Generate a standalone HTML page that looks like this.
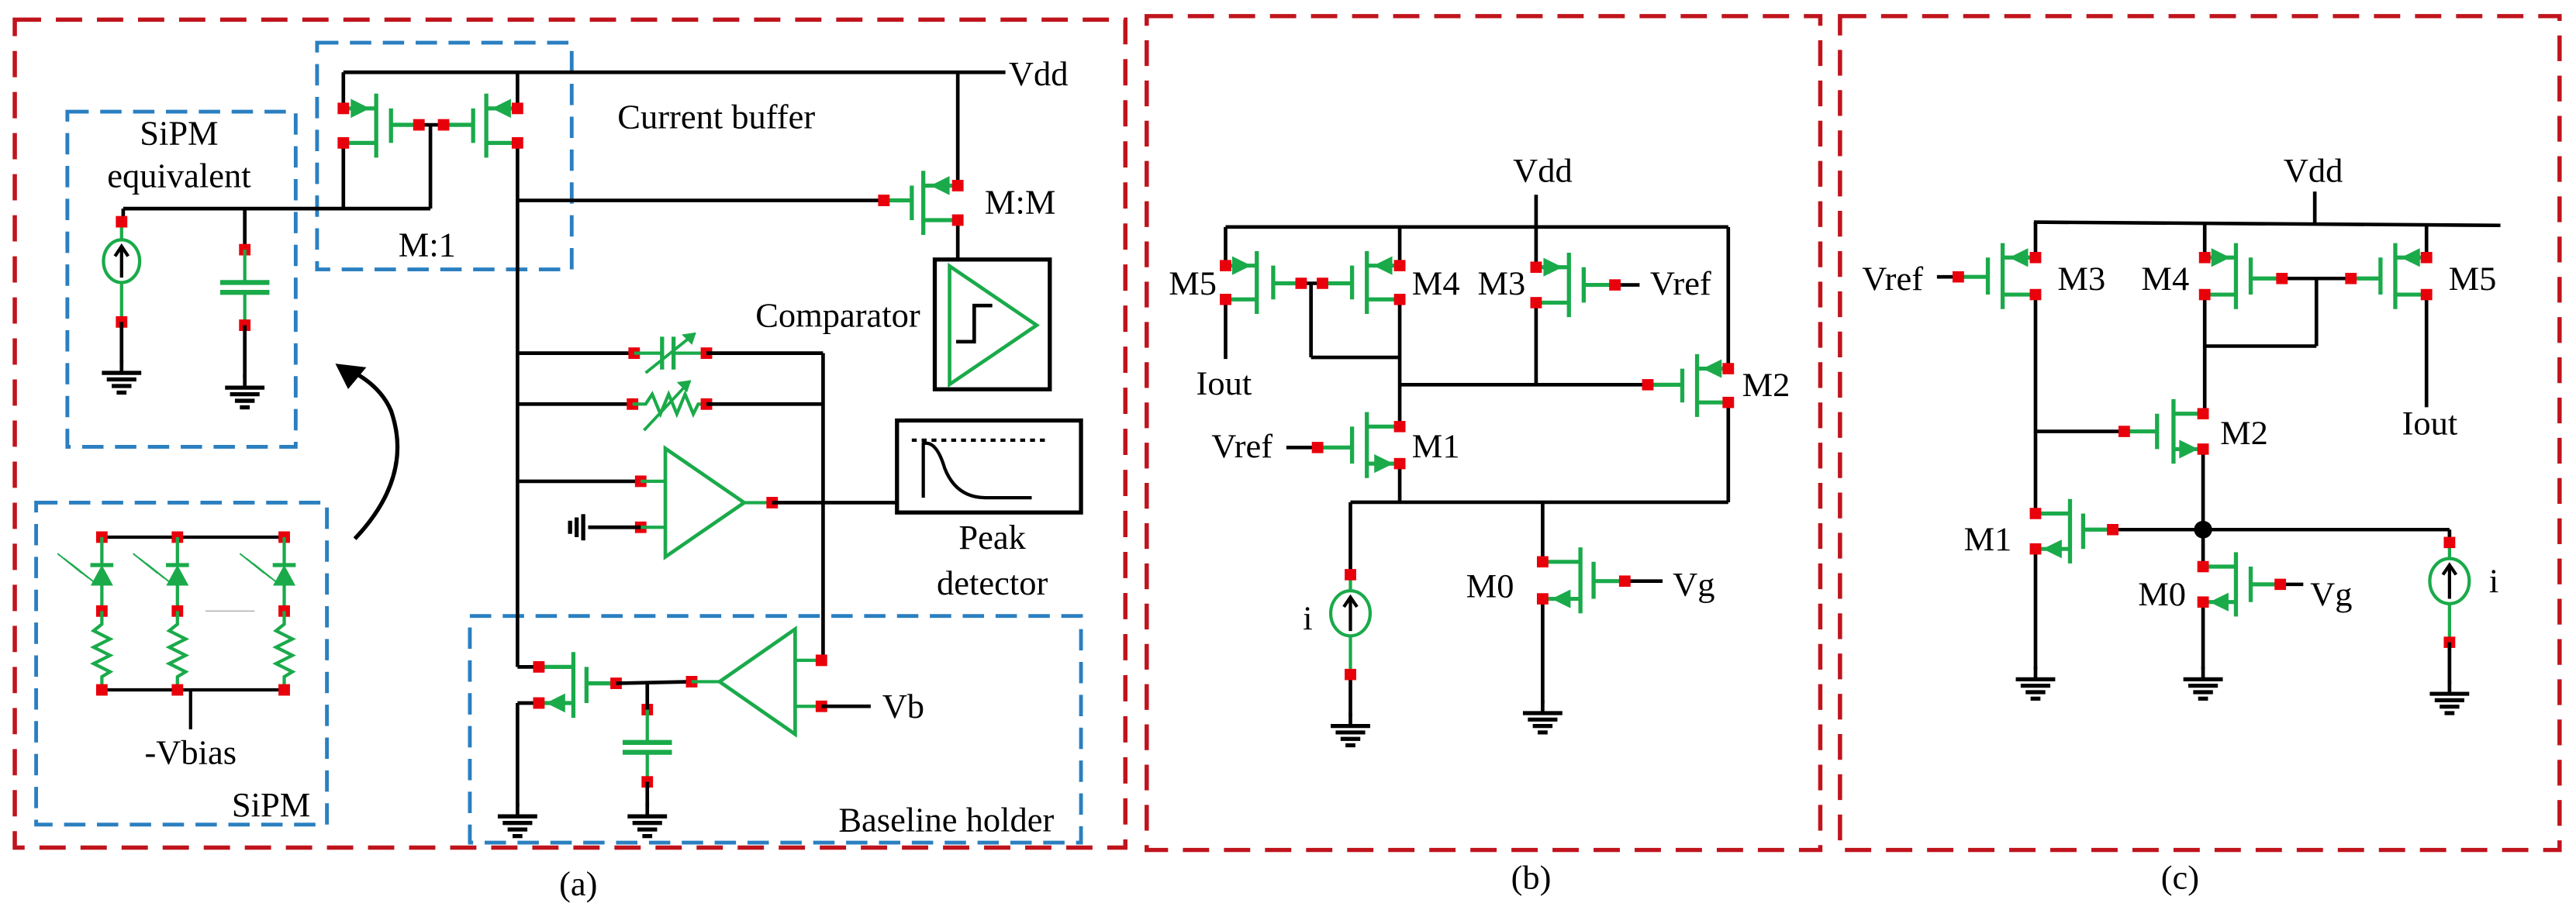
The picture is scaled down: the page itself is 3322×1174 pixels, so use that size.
<!DOCTYPE html>
<html><head><meta charset="utf-8"><style>
html,body{margin:0;padding:0;background:#fff}
svg{display:block}
svg text{font-family:"Liberation Serif","DejaVu Serif",serif;font-size:21px;fill:#000}
</style></head><body>
<svg id="s" width="3322" height="1174" viewBox="0 0 1568 554" preserveAspectRatio="none" xmlns="http://www.w3.org/2000/svg" font-family="Liberation Serif, serif">
<rect width="1568" height="554" fill="#fff"/>
<g id="ga"></g>
<g id="gb" transform="scale(1,0.98)"></g>
<g font-family="Liberation Serif, serif">
<text x="614" y="52">Vdd</text>
<text x="436" y="78" text-anchor="middle">Current  buffer</text>
<text x="109" y="88" text-anchor="middle">SiPM</text>
<text x="109" y="114" text-anchor="middle">equivalent</text>
<text x="260" y="156" text-anchor="middle">M:1</text>
<text x="621" y="130" text-anchor="middle">M:M</text>
<text x="510" y="199" text-anchor="middle">Comparator</text>
<text x="604" y="334" text-anchor="middle">Peak</text>
<text x="604" y="362" text-anchor="middle">detector</text>
<text x="116" y="465" text-anchor="middle">-Vbias</text>
<text x="165" y="497" text-anchor="middle">SiPM</text>
<text x="576" y="506" text-anchor="middle">Baseline holder</text>
<text x="537" y="437">Vb</text>
<text x="352" y="545" text-anchor="middle">(a)</text>
</g>
<g transform="scale(1,0.98)" font-family="Liberation Serif, serif">
<text x="939" y="113" text-anchor="middle">Vdd</text>
<text x="726" y="183" text-anchor="middle">M5</text>
<text x="874" y="183" text-anchor="middle">M4</text>
<text x="914" y="183" text-anchor="middle">M3</text>
<text x="1023" y="183" text-anchor="middle">Vref</text>
<text x="745" y="245" text-anchor="middle">Iout</text>
<text x="1075" y="246" text-anchor="middle">M2</text>
<text x="756" y="284" text-anchor="middle">Vref</text>
<text x="874" y="284" text-anchor="middle">M1</text>
<text x="796" y="391" text-anchor="middle">i</text>
<text x="907" y="371" text-anchor="middle">M0</text>
<text x="1031" y="370" text-anchor="middle">Vg</text>
<text x="932" y="552" text-anchor="middle">(b)</text>
<text x="1408" y="113" text-anchor="middle">Vdd</text>
<text x="1152" y="180" text-anchor="middle">Vref</text>
<text x="1267" y="180" text-anchor="middle">M3</text>
<text x="1318" y="180" text-anchor="middle">M4</text>
<text x="1505" y="180" text-anchor="middle">M5</text>
<text x="1479" y="270" text-anchor="middle">Iout</text>
<text x="1366" y="276" text-anchor="middle">M2</text>
<text x="1210" y="342" text-anchor="middle">M1</text>
<text x="1316" y="376" text-anchor="middle">M0</text>
<text x="1419" y="376" text-anchor="middle">Vg</text>
<text x="1518" y="368" text-anchor="middle">i</text>
<text x="1327" y="552" text-anchor="middle">(c)</text>
</g>
</svg>
<script>
const NS="http://www.w3.org/2000/svg";
const G="#1aaa4a",K="#000",RD="#e8000b";
let cur=document.getElementById('ga');
function el(t,a){const e=document.createElementNS(NS,t);for(const k in a)e.setAttribute(k,a[k]);cur.appendChild(e);return e;}
function L(x1,y1,x2,y2,c,w){el('line',{x1,y1,x2,y2,stroke:c||K,'stroke-width':w||2.2});}
function P(d,c,w,f){el('path',{d,stroke:c||K,'stroke-width':w||2.2,fill:f||'none'});}
function R(x,y){el('rect',{x:x-3.5,y:y-3.5,width:7,height:7,fill:RD});}
function tri(cx,y,dir){P(`M${cx+5*dir},${y} L${cx-5*dir},${y-5} L${cx-5*dir},${y+5}Z`,G,1,G);}
function fet(xd,y1,y2,xb,xp,xg,yg,ay,ad){
 L(xd,y1,xb,y1,G,2.5);L(xd,y2,xb,y2,G,2.5);
 L(xb,y1-9,xb,y2+9,G,2.5);L(xp,y1,xp,y2,G,2.5);L(xp,yg,xg,yg,G,2.5);
 tri((xd+xb)/2,ay,ad);R(xd,y1);R(xd,y2);R(xg,yg);}
function gnd(x,y){L(x,y-8,x,y);L(x-12,y,x+12,y,K,2.5);L(x-9,y+4,x+9,y+4,K,2.5);L(x-6,y+8,x+6,y+8,K,2.5);L(x-3,y+12,x+3,y+12,K,2.5);}
function frame(x1,y1,x2,y2,c,da,w){el('rect',{x:x1,y:y1,width:x2-x1,height:y2-y1,fill:'none',stroke:c,'stroke-width':w,'stroke-dasharray':da});}
function isrc(x,yc,rx,ry){el('ellipse',{cx:x,cy:yc,rx,ry,fill:'none',stroke:G,'stroke-width':2});L(x,yc+ry-3,x,yc-ry+4,K,2);P(`M${x-4},${yc-ry+10} L${x},${yc-ry+4} L${x+4},${yc-ry+10}`,K,2);}
function cap(x,y1,y2,w){L(x-w,y1,x+w,y1,G,3);L(x-w,y2,x+w,y2,G,3);}

/* ---- Panel a ---- */
frame(9,12,685,516,'#c0141c','16 9',2.6);
frame(41,68,180,272,'#2a7fc0','13 7',2.3);
frame(193,26,348,164,'#2a7fc0','13 7',2.3);
frame(22,306,199,502,'#2a7fc0','13 7',2.3);
frame(286,375,658,513,'#2a7fc0','13 7',2.3);
L(209,44,612,44);L(209,44,209,66);L(209,87,209,127);L(315,44,315,66);L(315,87,315,406);
L(255,76,270,76);L(262,76,262,127);L(75,127,262,127);L(75,127,75,135);L(149,127,149,152);
fet(209,66,87,229,238,255,76,66,1);
fet(315,66,87,296,288,270,76,66,-1);
L(74,135,74,146,G,2);isrc(74,159,11,13);L(74,172,74,196,G,2);R(74,135);R(74,196);L(74,196,74,221);gnd(74,227);
R(149,152);L(149,152,149,172,G,2);cap(149,172,178,15);L(149,178,149,198,G,2);R(149,198);L(149,198,149,230);gnd(149,236);
L(583,44,583,113);L(583,134,583,158);L(315,122,538,122);
fet(583,113,134,562,555,538,122,113,-1);
el('rect',{x:569,y:158,width:70,height:79,fill:'none',stroke:K,'stroke-width':2.5});
P('M578,162 L578,234 L631,198Z',G,2.2);P('M582,208 L593,208 L593,186 L604,186',K,2.2);
L(315,215,386,215);R(386,215);L(386,215,403,215,G,2);L(403,205,403,225,G,2.5);L(410,205,410,225,G,2.5);L(410,215,430,215,G,2);R(430,215);L(430,215,501,215);
L(393,227,423,203,G,1.8);P('M423,203 l-7,1 l5,5Z',G,1,G);
L(315,246,385,246);R(385,246);P('M385,246 L393,246 L397,240 L402,252 L407,240 L412,252 L417,240 L422,252 L425,246 L430,246',G,2);R(430,246);L(430,246,501,246);
L(392,262,420,232,G,1.8);P('M420,232 l-7,1 l5,5Z',G,1,G);
L(501,215,501,402);
L(315,293,390,293);R(390,293);L(390,293,405,293,G,2);R(390,321);L(390,321,405,321,G,2);L(358,321,390,321);
L(355,313,355,329,K,2.5);L(351,315,351,327,K,2.5);L(347,317,347,325,K,2.5);
P('M405,273 L405,339 L453,306Z',G,2.2);L(453,306,470,306,G,2);R(470,306);L(470,306,546,306);
el('rect',{x:546,y:256,width:112,height:56,fill:'none',stroke:K,'stroke-width':2.5});
L(552,268,637,268,K,2);el('line',{x1:552,y1:268,x2:637,y2:268,stroke:'#fff','stroke-width':2.5,'stroke-dasharray':'3 3'});
P('M562,303 L562,270 Q570,268 575,285 Q582,303 600,303 L628,303',K,2);
L(315,406,328,406);L(328,428,315,428);L(315,428,315,491);gnd(315,497);
fet(328,406,428,349,357,375,416,428,-1);
L(375,416,421,415);R(421,415);L(421,415,438,415,G,2);
P('M438,415 L484,383 L484,447Z',G,2.2);
L(484,402,500,402,G,2);R(500,402);L(484,430,500,430,G,2);R(500,430);L(500,430,530,430);
R(394,432);L(394,416,394,432);L(394,432,394,452,G,2);cap(394,452,458,15);L(394,458,394,476,G,2);R(394,476);L(394,476,394,491);gnd(394,497);
P('M216,328 Q252,290 238,250 Q232,236 216,227',K,2.5);P('M205,222 L222,224 L212,236Z',K,1,K);
L(62,327,173,327,K,2);L(62,420,173,420,K,2);L(116,420,116,444,K,2);
[62,108,173].forEach(x=>{R(x,327);L(x,327,x,344,G,2);L(x-7,344,x+7,344,G,2.5);P(`M${x-6},${356} L${x+6},356 L${x},345Z`,G,1,G);L(x,356,x,372,G,2);R(x,372);
 P(`M${x},372 L${x},380 L${x-5},384 L${x+5},389 L${x-5},394 L${x+5},399 L${x-5},404 L${x+5},409 L${x},412 L${x},420`,G,2);R(x,420);
 for(let i=0;i<3;i++)L(x-27+i*4,337+i*3,x-12+i*4,349+i*3,G,0.9);});
L(125,372,155,372,'#aaa',0.6);

/* ---- Panels b,c ---- */
cur=document.getElementById('gb');
frame(698,10,1108,528,'#c0141c','16 9',2.6);
frame(1120,10,1558,528,'#c0141c','16 9',2.6);
L(746,141,1052,141);L(935,121,935,166);L(746,141,746,165);L(852,141,852,165);L(1052,141,1052,229);L(1052,250,1052,312);
L(746,186,746,223);L(792,176,805,176);L(798,176,798,222);L(798,222,852,222);L(852,186,852,265);L(852,239,1003,239);L(935,188,935,239);
L(983,177,998,177);L(783,278,802,278);L(852,288,852,312);L(822,312,1052,312);L(822,312,822,357);
L(822,419,822,445);gnd(822,451);L(939,312,939,349);L(939,372,939,437);gnd(939,443);L(989,361,1012,361);
fet(746,165,186,765,775,792,176,165,1);
fet(852,165,186,832,823,805,176,165,-1);
fet(935,166,188,955,964,983,177,166,1);
fet(1052,229,250,1033,1024,1003,239,229,-1);
fet(852,265,288,832,823,802,278,288,1);
fet(939,349,372,962,970,989,361,372,-1);
L(822,357,822,367,G,2);isrc(822,381,12,14);L(822,395,822,419,G,2);R(822,357);R(822,419);
L(1238,138,1522,140);L(1409,119,1409,139);L(1239,138,1239,160);L(1239,183,1239,319);L(1239,341,1239,416);gnd(1239,422);
L(1342,139,1342,160);L(1477,139,1477,160);L(1477,183,1477,253);L(1389,173,1431,173);L(1410,173,1410,215);L(1410,215,1342,215);
L(1342,183,1342,257);L(1239,268,1293,268);L(1341,279,1341,352);L(1286,329,1491,329);el('circle',{cx:1341,cy:329,r:5.5,fill:K});
L(1341,374,1341,416);gnd(1341,422);L(1388,363,1402,363);L(1179,172,1192,172);
fet(1239,160,183,1219,1210,1192,172,160,-1);
fet(1342,160,183,1361,1370,1389,173,160,1);
fet(1477,160,183,1458,1449,1431,173,160,-1);
fet(1341,257,279,1323,1313,1293,268,279,1);
fet(1239,319,341,1260,1268,1286,329,341,-1);
fet(1341,352,374,1361,1370,1388,363,374,-1);
L(1491,329,1491,337);L(1491,337,1491,347,G,2);isrc(1491,361,12,14);L(1491,375,1491,399,G,2);R(1491,337);R(1491,399);L(1491,399,1491,425);gnd(1491,431);
</script>
</body></html>
